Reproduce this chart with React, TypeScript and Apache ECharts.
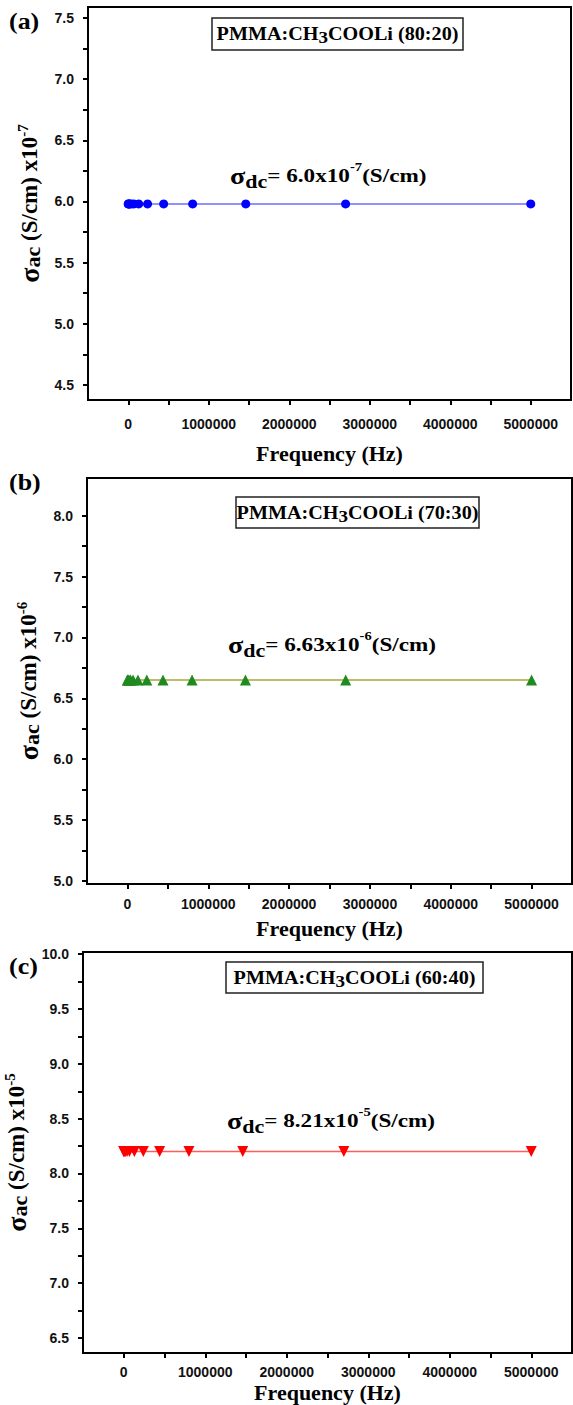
import React, { useEffect, useRef } from 'react';
import * as echarts from 'echarts';

// ---- data ----
const freqA = [100, 1000, 10000, 20000, 40000, 70000, 130000, 240000, 440000, 800000, 1460000, 2700000, 5000000];
const sigmaA = [5.98, 5.98, 5.98, 5.98, 5.98, 5.98, 5.98, 5.98, 5.98, 5.98, 5.98, 5.98, 5.98];
const freqB = [100, 1000, 10000, 20000, 40000, 70000, 130000, 240000, 440000, 800000, 1460000, 2700000, 5000000];
const sigmaB = [6.65, 6.65, 6.65, 6.65, 6.65, 6.65, 6.65, 6.65, 6.65, 6.65, 6.65, 6.65, 6.65];
const freqC = [100, 1000, 10000, 20000, 40000, 70000, 130000, 240000, 440000, 800000, 1460000, 2700000, 5000000];
const sigmaC = [8.2, 8.2, 8.2, 8.2, 8.2, 8.2, 8.2, 8.2, 8.2, 8.2, 8.2, 8.2, 8.2];

const xTickValues = [0, 500000, 1000000, 1500000, 2000000, 2500000, 3000000, 3500000, 4000000, 4500000, 5000000];
const xLabelValues = [0, 1000000, 2000000, 3000000, 4000000, 5000000];

const yTicksA = [4.5, 4.75, 5.0, 5.25, 5.5, 5.75, 6.0, 6.25, 6.5, 6.75, 7.0, 7.25, 7.5];
const yLabelsA = [4.5, 5.0, 5.5, 6.0, 6.5, 7.0, 7.5];
const yTicksB = [5.0, 5.25, 5.5, 5.75, 6.0, 6.25, 6.5, 6.75, 7.0, 7.25, 7.5, 7.75, 8.0];
const yLabelsB = [5.0, 5.5, 6.0, 6.5, 7.0, 7.5, 8.0];
const yTicksC = [6.5, 6.75, 7.0, 7.25, 7.5, 7.75, 8.0, 8.25, 8.5, 8.75, 9.0, 9.25, 9.5, 9.75, 10.0];
const yLabelsC = [6.5, 7.0, 7.5, 8.0, 8.5, 9.0, 9.5, 10.0];

const panelLetters = ['(a)', '(b)', '(c)'];
const compositions = ['(80:20)', '(70:30)', '(60:40)'];
const dcMantissa = ['6.0', '6.63', '8.21'];
const dcExponent = ['-7', '-6', '-5'];
const yExponent = ['-7', '-6', '-5'];

const SERIF = '"Liberation Serif", "Times New Roman", serif';
const SANS = '"Liberation Sans", Arial, sans-serif';

const yNameRich = {
  g: { fontFamily: SERIF, fontWeight: 'bold', fontSize: 28, lineHeight: 28, color: '#000' },
  sub: { fontFamily: SERIF, fontWeight: 'bold', fontSize: 22, lineHeight: 22, verticalAlign: 'bottom', color: '#000' },
  n: { fontFamily: SERIF, fontWeight: 'bold', fontSize: 23, lineHeight: 28, color: '#000' },
  sup: { fontFamily: SERIF, fontWeight: 'bold', fontSize: 15, lineHeight: 14, verticalAlign: 'top', color: '#000' },
};

const grids = [
  { left: 88, top: 7, width: 483, height: 393 },
  { left: 87, top: 478, width: 485, height: 406 },
  { left: 83, top: 952, width: 489, height: 401 },
];
const yRanges = [
  [4.377, 7.59],
  [4.975, 8.31],
  [6.363, 10.02],
];
const yTickSets = [yTicksA, yTicksB, yTicksC];
const yLabelSets = [yLabelsA, yLabelsB, yLabelsC];
const xLabelMargins = [17, 13, 12];
const xNameGaps = [42, 33, 28];
const yNameGaps = [42, 41, 38];

const seriesColors = [
  { mark: '#0000ff', line: '#6f6fff', symbol: 'circle', size: 9, rotate: 0 },
  { mark: '#1f8a1f', line: '#a4a83a', symbol: 'triangle', size: 11, rotate: 0 },
  { mark: '#ff0000', line: '#ff5c5c', symbol: 'triangle', size: 11, rotate: 180 },
];
const seriesData = [
  freqA.map((f, i) => [f, sigmaA[i]]),
  freqB.map((f, i) => [f, sigmaB[i]]),
  freqC.map((f, i) => [f, sigmaC[i]]),
];

// annotation placements
const letterPos = [[9, 21], [9, 482], [9, 966]];
const boxRects = [
  [212, 18, 251, 32],
  [236, 497, 243, 31],
  [226, 962, 257, 31],
];
const dcPos = [[230, 176], [228, 645], [227, 1121]];

export default function App() {
  const ref = useRef<HTMLDivElement>(null);
  useEffect(() => {
    if (!ref.current) return;
    const chart = echarts.init(ref.current, undefined, { renderer: 'svg' });

    const xAxis = grids.map((_, i) => ({
      type: 'value',
      gridIndex: i,
      min: -500000,
      max: 5500000,
      name: 'Frequency (Hz)',
      nameLocation: 'middle',
      nameGap: xNameGaps[i],
      nameTextStyle: { fontFamily: SERIF, fontWeight: 'bold', fontSize: 22, color: '#000' },
      axisLine: { show: true, onZero: false, lineStyle: { color: '#000', width: 2 } },
      axisTick: { show: true, inside: false, length: 5, customValues: xTickValues, lineStyle: { color: '#000', width: 2 } },
      axisLabel: {
        customValues: xLabelValues,
        margin: xLabelMargins[i],
        fontFamily: SANS,
        fontWeight: 'bold',
        fontSize: 14,
        color: '#111',
        formatter: (v: number) => String(Math.round(v)),
      },
      splitLine: { show: false },
    }));

    const yAxis = grids.map((_, i) => ({
      type: 'value',
      gridIndex: i,
      min: yRanges[i][0],
      max: yRanges[i][1],
      name: `{g|σ}{sub|ac}{n| (S/cm) x10}{sup|${yExponent[i]}}`,
      nameLocation: 'middle',
      nameGap: yNameGaps[i],
      nameTextStyle: { fontFamily: SERIF, fontWeight: 'bold', fontSize: 23, color: '#000', rich: yNameRich },
      axisLine: { show: true, onZero: false, lineStyle: { color: '#000', width: 2 } },
      axisTick: { show: true, inside: false, length: 5, customValues: yTickSets[i], lineStyle: { color: '#000', width: 2 } },
      axisLabel: {
        customValues: yLabelSets[i],
        margin: 14,
        fontFamily: SANS,
        fontWeight: 'bold',
        fontSize: 14,
        color: '#111',
        formatter: (v: number) => v.toFixed(1),
      },
      splitLine: { show: false },
    }));

    const series = grids.map((_, i) => ({
      type: 'line',
      xAxisIndex: i,
      yAxisIndex: i,
      data: seriesData[i],
      symbol: seriesColors[i].symbol,
      symbolSize: seriesColors[i].size,
      symbolRotate: seriesColors[i].rotate,
      showAllSymbol: true,
      itemStyle: { color: seriesColors[i].mark },
      lineStyle: { color: seriesColors[i].line, width: 1.5 },
      z: 3,
    }));

    const graphic: any[] = [];
    for (let i = 0; i < 3; i++) {
      graphic.push({
        type: 'text',
        x: letterPos[i][0],
        y: letterPos[i][1],
        scaleX: 1.08,
        style: {
          text: panelLetters[i],
          fontFamily: SERIF,
          fontWeight: 'bold',
          fontSize: 24,
          fill: '#000',
          verticalAlign: 'middle',
          align: 'left',
        },
      });
      const [bx, by, bw, bh] = boxRects[i];
      graphic.push({
        type: 'rect',
        shape: { x: bx, y: by, width: bw, height: bh },
        style: { fill: '#fff', stroke: '#222', lineWidth: 1.5 },
        z: 10,
      });
      graphic.push({
        type: 'text',
        x: bx + bw / 2,
        y: by + bh / 2,
        scaleX: 1.12,
        z: 11,
        style: {
          text: `{n|PMMA:CH}{sub|3}{n|COOLi ${compositions[i]}}`,
          align: 'center',
          verticalAlign: 'middle',
          rich: {
            n: { fontFamily: SERIF, fontWeight: 'bold', fontSize: 18, lineHeight: 24, fill: '#000' },
            sub: { fontFamily: SERIF, fontWeight: 'bold', fontSize: 17, lineHeight: 18, verticalAlign: 'bottom', fill: '#000' },
          },
        },
      });
      graphic.push({
        type: 'text',
        x: dcPos[i][0],
        y: dcPos[i][1],
        scaleX: 1.22,
        z: 11,
        style: {
          text: `{g|σ}{sub|dc}{n|= ${dcMantissa[i]}x10}{sup|${dcExponent[i]}}{n|(S/cm)}`,
          align: 'left',
          verticalAlign: 'middle',
          rich: {
            g: { fontFamily: SERIF, fontWeight: 'bold', fontSize: 23, lineHeight: 30, fill: '#000' },
            sub: { fontFamily: SERIF, fontWeight: 'bold', fontSize: 18, lineHeight: 20, verticalAlign: 'bottom', fill: '#000' },
            n: { fontFamily: SERIF, fontWeight: 'bold', fontSize: 19, lineHeight: 30, fill: '#000' },
            sup: { fontFamily: SERIF, fontWeight: 'bold', fontSize: 12, lineHeight: 14, verticalAlign: 'top', fill: '#000' },
          },
        },
      });
    }

    chart.setOption({
      animation: false,
      backgroundColor: '#fff',
      grid: grids.map((g) => ({
        ...g,
        show: true,
        borderColor: '#000',
        borderWidth: 2,
        backgroundColor: 'transparent',
        containLabel: false,
        outerBoundsMode: 'none',
      })),
      xAxis,
      yAxis,
      series,
      graphic,
    } as any);
    return () => chart.dispose();
  }, []);
  return <div ref={ref} style={{ position: 'absolute', left: 0, top: 0, width: 573, height: 1405, background: '#fff' }} />;
}
